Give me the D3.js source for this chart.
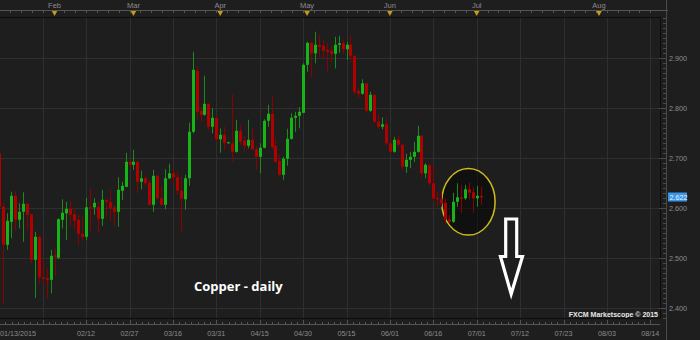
<!DOCTYPE html>
<html>
<head>
<meta charset="UTF-8">
<title>Copper - daily</title>
<script src="https://d3js.org/d3.v7.min.js"></script>
<style>
body{margin:0;background:#1e1e1e;}
svg{display:block;}
</style>
</head>
<body>
<script>
// daily candles, index 0 = 01/13/2015, one per weekday up to 07/02
var open  = [2.710,2.603,2.527,2.573,2.625,2.577,2.593,2.609,2.588,2.497,2.543,2.462,2.460,2.457,2.506,2.501,2.577,2.590,2.599,2.588,
             2.577,2.549,2.543,2.602,2.602,2.603,2.579,2.617,2.613,2.602,2.593,2.635,2.643,2.693,2.687,2.693,2.653,2.660,2.651,2.607,
             2.665,2.620,2.607,2.660,2.670,2.662,2.635,2.618,2.660,2.753,2.875,2.795,2.787,2.809,2.763,2.781,2.738,2.747,2.730,2.730,
             2.713,2.755,2.735,2.725,2.737,2.718,2.703,2.721,2.775,2.789,2.725,2.695,2.667,2.699,2.739,2.781,2.785,2.791,2.887,2.931,
             2.910,2.927,2.925,2.917,2.915,2.909,2.927,2.930,2.918,2.927,2.905,2.835,2.829,2.850,2.795,2.827,2.773,2.763,2.768,2.730,
             2.713,2.737,2.727,2.683,2.697,2.703,2.713,2.745,2.670,2.686,2.650,2.621,2.618,2.611,2.578,2.573,2.613,2.622,2.620,2.638,
             2.632,2.620,2.625];
var high  = [2.723,2.612,2.590,2.633,2.635,2.610,2.632,2.610,2.588,2.553,2.545,2.500,2.480,2.517,2.519,2.580,2.618,2.613,2.615,2.600,
             2.587,2.583,2.621,2.640,2.620,2.613,2.637,2.618,2.638,2.607,2.662,2.653,2.711,2.695,2.717,2.694,2.675,2.667,2.657,2.677,
             2.667,2.645,2.678,2.689,2.680,2.673,2.663,2.667,2.771,2.913,2.885,2.803,2.865,2.810,2.800,2.785,2.760,2.763,2.733,2.828,
             2.777,2.767,2.745,2.777,2.760,2.725,2.730,2.778,2.807,2.825,2.740,2.707,2.703,2.759,2.790,2.793,2.802,2.890,2.933,2.933,
             2.953,2.947,2.937,2.930,2.925,2.943,2.945,2.937,2.933,2.945,2.906,2.843,2.858,2.851,2.833,2.828,2.789,2.782,2.780,2.740,
             2.743,2.747,2.728,2.709,2.713,2.733,2.765,2.746,2.690,2.690,2.687,2.633,2.633,2.620,2.587,2.631,2.650,2.647,2.647,2.651,
             2.643,2.645,2.643];
var low   = [2.560,2.410,2.517,2.540,2.555,2.560,2.533,2.557,2.490,2.421,2.447,2.447,2.420,2.430,2.465,2.498,2.560,2.537,2.565,2.560,
             2.527,2.535,2.537,2.555,2.587,2.551,2.565,2.582,2.575,2.565,2.563,2.617,2.642,2.683,2.677,2.630,2.638,2.643,2.606,2.593,
             2.617,2.605,2.598,2.658,2.650,2.627,2.553,2.597,2.645,2.750,2.777,2.773,2.785,2.757,2.750,2.733,2.711,2.717,2.729,2.693,
             2.711,2.727,2.713,2.720,2.717,2.677,2.670,2.720,2.763,2.717,2.691,2.663,2.657,2.685,2.737,2.753,2.760,2.790,2.873,2.862,
             2.890,2.903,2.900,2.873,2.893,2.880,2.911,2.909,2.897,2.893,2.827,2.820,2.827,2.793,2.793,2.771,2.760,2.758,2.727,2.711,
             2.711,2.723,2.678,2.671,2.680,2.693,2.711,2.661,2.660,2.645,2.613,2.603,2.603,2.569,2.570,2.571,2.603,2.591,2.617,2.618,
             2.591,2.603,2.607];
var close = [2.603,2.527,2.575,2.625,2.577,2.593,2.609,2.587,2.497,2.543,2.462,2.459,2.456,2.505,2.503,2.578,2.591,2.599,2.587,2.575,
             2.549,2.543,2.602,2.600,2.611,2.579,2.617,2.613,2.601,2.593,2.637,2.645,2.693,2.687,2.693,2.653,2.660,2.650,2.607,2.665,
             2.620,2.607,2.660,2.670,2.662,2.635,2.619,2.660,2.753,2.877,2.793,2.787,2.809,2.763,2.781,2.738,2.747,2.731,2.732,2.713,
             2.755,2.733,2.725,2.737,2.718,2.703,2.721,2.775,2.789,2.722,2.693,2.667,2.699,2.739,2.781,2.785,2.793,2.887,2.931,2.910,
             2.927,2.923,2.915,2.913,2.909,2.927,2.930,2.918,2.927,2.905,2.833,2.829,2.850,2.795,2.827,2.773,2.763,2.768,2.730,2.713,
             2.737,2.727,2.683,2.697,2.703,2.713,2.745,2.670,2.687,2.650,2.620,2.618,2.610,2.578,2.573,2.613,2.622,2.619,2.638,2.631,
             2.620,2.625,2.622];

var dateIdx    = [0,11,22,33,44,55,66,77,88,99,110,121,132,143,154,165];
var dateLabels = ["01/13/2015","","02/12","02/27","03/16","03/31","04/15","04/30","05/15","06/01","06/16","07/01","07/12","07/23","08/03","08/14"];
var monthIdx    = [14,34,56,78,99,121,152];
var monthLabels = ["Feb","Mar","Apr","May","Jun","Jul","Aug"];
var priceTicks  = [2.4,2.5,2.6,2.7,2.8,2.9];
var lastPrice = 2.622;

var w=700,h=340;
var plotR=660, plotT=17, plotB=318;
var axisX=666;

var xScale = d3.scaleLinear().domain([0,165]).range([-0.7,650.3]);
var yScale = d3.scaleLinear().domain([2.4,2.9]).range([308.3,58.3]);

var candles = open.map(function(o,i){
    return {i:i,o:o,h:high[i],l:low[i],c:close[i]};
});

var svg = d3.select("body").append("svg")
        .attr("width",w)
        .attr("height",h)
        .style("font-family","'Liberation Sans',Arial,sans-serif");

svg.append("rect").attr("width",w).attr("height",h).attr("fill","#1e1e1e");

svg.append("defs").append("clipPath").attr("id","plotclip")
        .append("rect").attr("x",0).attr("y",plotT).attr("width",plotR).attr("height",plotB-plotT);

var plot = svg.append("g").attr("clip-path","url(#plotclip)");

// grid
plot.selectAll("line.hgrid")
        .data(priceTicks)
        .enter()
        .append("line")
        .attr("class","hgrid")
        .attr("x1",0).attr("x2",plotR)
        .attr("y1",function(d){return Math.round(yScale(d))+0.5;})
        .attr("y2",function(d){return Math.round(yScale(d))+0.5;})
        .attr("stroke","#2f2f2f");

plot.selectAll("line.vgrid")
        .data(dateIdx)
        .enter()
        .append("line")
        .attr("class","vgrid")
        .attr("y1",plotT).attr("y2",plotB)
        .attr("x1",function(d){return Math.round(xScale(d))+0.5;})
        .attr("x2",function(d){return Math.round(xScale(d))+0.5;})
        .attr("stroke","#2f2f2f");

// highlight ellipse around the last candles
var ecx = 118.9, ecy = 2.613;
plot.append("ellipse")
        .attr("cx",xScale(ecx))
        .attr("cy",yScale(ecy))
        .attr("rx",xScale(ecx+6.77)-xScale(ecx))
        .attr("ry",yScale(ecy-0.0666)-yScale(ecy))
        .attr("fill","rgba(0,0,0,0.45)")
        .attr("stroke","#cdbb1c")
        .attr("stroke-width",1.5);

// wicks
plot.selectAll("line.wick")
        .data(candles)
        .enter()
        .append("line")
        .attr("class","wick")
        .attr("x1",function(d){return Math.round(xScale(d.i))+0.5;})
        .attr("x2",function(d){return Math.round(xScale(d.i))+0.5;})
        .attr("y1",function(d){return yScale(d.h);})
        .attr("y2",function(d){return yScale(d.l);})
        .attr("stroke",function(d){return d.c>=d.o ? "#1c8a1c" : "#8c0000";})
        .attr("stroke-width",1);

// bodies
plot.selectAll("rect.body")
        .data(candles)
        .enter()
        .append("rect")
        .attr("class","body")
        .attr("x",function(d){return Math.round(xScale(d.i))-1;})
        .attr("width",3)
        .attr("y",function(d){return yScale(Math.max(d.o,d.c));})
        .attr("height",function(d){return Math.max(1,Math.abs(yScale(d.o)-yScale(d.c)));})
        .attr("fill",function(d){return d.c>=d.o ? "#17b417" : "#b00000";});

// down arrow annotation
var arrowPts = [[128.35,2.5786],[131.14,2.5786],[131.14,2.5036],[132.6,2.5036],[129.74,2.4286],[127.03,2.5036],[128.35,2.5036]];
plot.append("path")
        .attr("d",d3.line().x(function(d){return xScale(d[0]);}).y(function(d){return yScale(d[1]);})(arrowPts)+"Z")
        .attr("fill","#1e1e1e")
        .attr("stroke","#ffffff")
        .attr("stroke-width",3.2)
        .attr("stroke-linejoin","miter");

// title
svg.append("text")
        .attr("x",194).attr("y",291)
        .attr("fill","#ffffff")
        .style("font-family","'Open Sans',sans-serif")
        .style("font-weight","bold")
        .style("font-size","13px")
        .text("Copper - daily");

svg.append("text")
        .attr("x",658).attr("y",317)
        .attr("text-anchor","end")
        .attr("fill","#e8e8e8")
        .style("font-size","7px")
        .style("font-weight","bold")
        .text("FXCM Marketscope \u00a9 2015");

// plot frame
svg.append("line").attr("x1",0).attr("x2",plotR).attr("y1",plotT+0.5).attr("y2",plotT+0.5).attr("stroke","#0c0c0c");
svg.append("line").attr("x1",0).attr("x2",plotR).attr("y1",plotB+0.5).attr("y2",plotB+0.5).attr("stroke","#0c0c0c");
svg.append("line").attr("x1",plotR+0.5).attr("x2",plotR+0.5).attr("y1",plotT).attr("y2",plotB).attr("stroke","#0c0c0c");

// top month ruler
svg.append("line").attr("x1",0).attr("x2",668).attr("y1",10.5).attr("y2",10.5).attr("stroke","#555");
svg.selectAll("line.ttick")
        .data(d3.range(0,61))
        .enter()
        .append("line")
        .attr("class","ttick")
        .attr("x1",function(d){return Math.round(xScale(d*11/4))+0.5;})
        .attr("x2",function(d){return Math.round(xScale(d*11/4))+0.5;})
        .attr("y1",10.5).attr("y2",13)
        .attr("stroke","#555");
svg.selectAll("path.mark")
        .data(monthIdx)
        .enter()
        .append("path")
        .attr("class","mark")
        .attr("d",function(d){var x=xScale(d);return "M"+(x-2.8)+",11 L"+(x+2.8)+",11 L"+x+",16 Z";})
        .attr("fill","#c99a12");
svg.selectAll("text.month")
        .data(monthIdx)
        .enter()
        .append("text")
        .attr("class","month")
        .attr("x",function(d){return xScale(d);})
        .attr("y",8)
        .attr("text-anchor","middle")
        .attr("fill","#8c8c8c")
        .style("font-size","7.5px")
        .text(function(d,i){return monthLabels[i];});

// bottom date ruler
svg.append("line").attr("x1",0).attr("x2",plotR).attr("y1",324.5).attr("y2",324.5).attr("stroke","#555");
svg.selectAll("line.btick")
        .data(d3.range(0,106))
        .enter()
        .append("line")
        .attr("class","btick")
        .attr("x1",function(d){return Math.round(xScale(d*11/7))+0.5;})
        .attr("x2",function(d){return Math.round(xScale(d*11/7))+0.5;})
        .attr("y1",function(d){return d%7==0 ? 320 : 322;})
        .attr("y2",324.5)
        .attr("stroke","#555");
svg.selectAll("text.date")
        .data(dateIdx)
        .enter()
        .append("text")
        .attr("class","date")
        .attr("x",function(d,i){return i==0 ? 0 : xScale(d);})
        .attr("y",336)
        .attr("text-anchor",function(d,i){return i==0 ? "start" : "middle";})
        .attr("fill","#8c8c8c")
        .style("font-size","7.2px")
        .text(function(d,i){return dateLabels[i];});

// right price axis
svg.append("line").attr("x1",axisX+0.5).attr("x2",axisX+0.5).attr("y1",0).attr("y2",h).attr("stroke","#4a4a4a");
svg.selectAll("line.minor")
        .data(d3.range(238,299))
        .enter()
        .append("line")
        .attr("class","minor")
        .attr("x1",function(d){return d%10==0 ? 659 : 663;})
        .attr("x2",axisX)
        .attr("y1",function(d){return Math.round(yScale(d/100))+0.5;})
        .attr("y2",function(d){return Math.round(yScale(d/100))+0.5;})
        .attr("stroke","#4a4a4a");
svg.selectAll("text.price")
        .data(priceTicks)
        .enter()
        .append("text")
        .attr("class","price")
        .attr("x",669)
        .attr("y",function(d){return yScale(d)+2.6;})
        .attr("fill","#8c8c8c")
        .style("font-size","7.2px")
        .text(function(d){return d3.format(".3f")(d);});

svg.append("rect")
        .attr("x",668).attr("y",yScale(lastPrice)-4.8)
        .attr("width",19).attr("height",9)
        .attr("fill","#3c96e6");
svg.append("text")
        .attr("x",669.5).attr("y",yScale(lastPrice)+2.4)
        .attr("fill","#e6f2ff")
        .style("font-size","7.2px")
        .text(d3.format(".3f")(lastPrice));
</script>
</body>
</html>
